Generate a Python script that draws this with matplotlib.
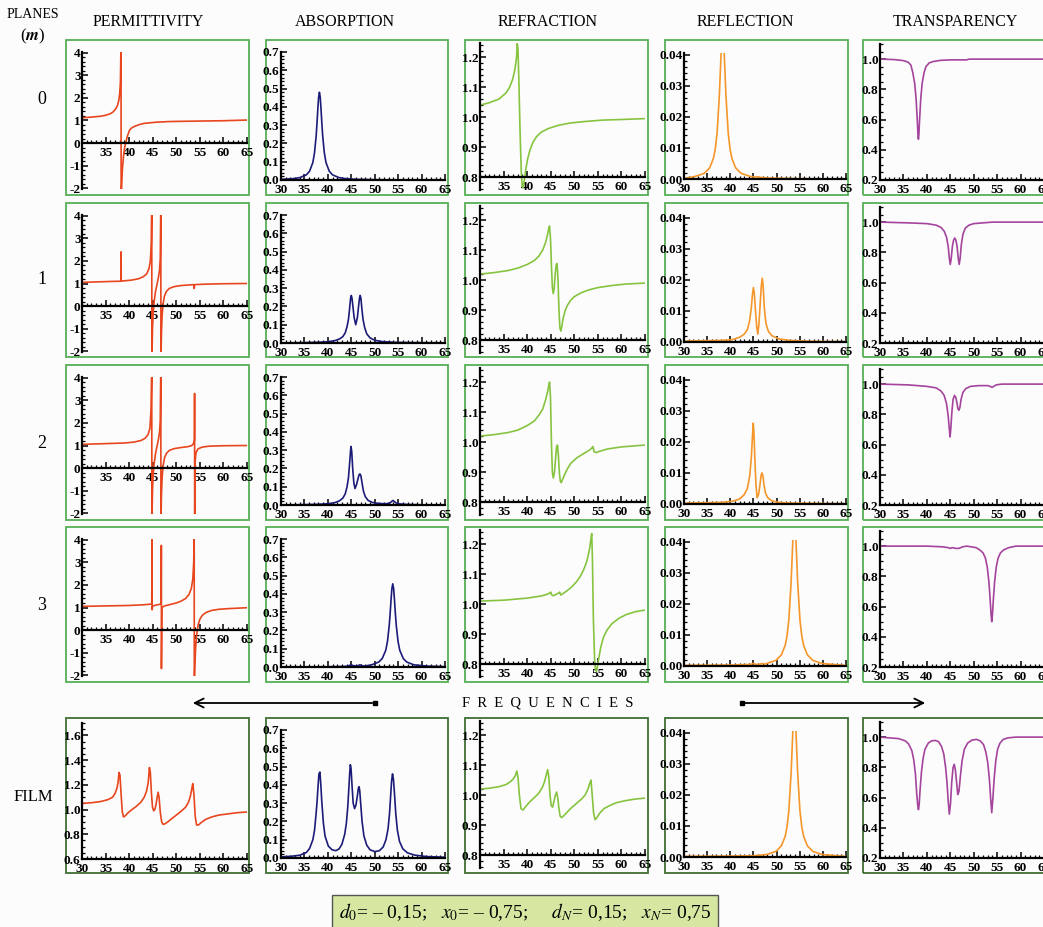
import numpy as np
import matplotlib
matplotlib.use("Agg")
import matplotlib.pyplot as plt
import matplotlib.ticker as tick
from matplotlib.patches import Rectangle, FancyArrowPatch
from matplotlib.lines import Line2D

plt.rcParams['font.family'] = ['Liberation Serif', 'DejaVu Serif']
plt.rcParams['mathtext.fontset'] = 'stix'

# ---------------- data ----------------
columns = ["PERMITTIVITY", "ABSORPTION", "REFRACTION", "REFLECTION", "TRANSPARENCY"]
rows = ["0", "1", "2", "3", "FILM"]

# m = 0
perm0_x = [30, 32, 34, 35, 36, 36.6, 37.1, 37.5, 37.8, 38.0, 38.15, 38.28, 38.3, 38.4, 38.55, 38.8, 39.1, 39.6, 40.1, 40.6, 41.25, 42.2, 43.1, 44.5, 46.0, 47.5, 48, 50, 55, 60, 65]
perm0_y = [1.12, 1.15, 1.19, 1.23, 1.3, 1.38, 1.5, 1.65, 1.88, 2.2, 2.7, 4.5, -2.5, -2.0, -1.2, -0.58, -0.14, 0.29, 0.58, 0.68, 0.75, 0.82, 0.87, 0.9, 0.93, 0.94, 0.95, 0.96, 0.975, 0.99, 1.02]
abs0_x = [30, 32.6, 34, 35.4, 36.1, 36.8, 37.15, 37.5, 37.675, 37.85, 38.025, 38.2, 38.375, 38.55, 38.725, 38.9, 39.25, 39.6, 40.3, 41.0, 42.4, 43.8, 46.4, 50, 55, 65]
abs0_y = [0.0035, 0.0074, 0.013, 0.028, 0.048, 0.096, 0.148, 0.24, 0.307, 0.384, 0.452, 0.48, 0.452, 0.384, 0.307, 0.24, 0.148, 0.096, 0.048, 0.028, 0.013, 0.0074, 0.0035, 0.0017, 0.0008, 0.0003]
refr0_x = [30, 32, 34, 35.5, 36.3, 36.9, 37.3, 37.55, 37.75, 37.9, 38.05, 38.25, 38.5, 38.75, 38.95, 39.15, 39.4, 39.7, 40.1, 40.6, 41.2, 42, 43, 44.5, 46.5, 49, 52, 56, 60, 65]
refr0_y = [1.04, 1.048, 1.06, 1.08, 1.1, 1.125, 1.15, 1.175, 1.2, 1.245, 1.23, 1.12, 0.95, 0.82, 0.77, 0.765, 0.79, 0.825, 0.86, 0.89, 0.915, 0.935, 0.95, 0.962, 0.972, 0.98, 0.985, 0.99, 0.992, 0.995]
refl0_x = [30, 32.35, 34.35, 35.55, 36.35, 36.75, 37.15, 37.65, 37.85, 38.0, 38.15, 38.35, 38.55, 38.7, 38.85, 39.05, 39.55, 39.95, 40.35, 41.15, 42.35, 44.35, 48.35, 55, 65]
refl0_y = [0.0002, 0.0008, 0.0018, 0.0036, 0.0066, 0.0096, 0.0148, 0.0272, 0.0345, 0.040, 0.045, 0.048, 0.045, 0.040, 0.0345, 0.0272, 0.0148, 0.0096, 0.0066, 0.0036, 0.0018, 0.0008, 0.0003, 0.0001, 0.0]
trans0_x = [30, 33, 35, 36, 36.6, 37.0, 37.4, 37.7, 37.95, 38.1, 38.2, 38.3, 38.45, 38.7, 39.0, 39.4, 39.8, 40.5, 41.5, 43, 45, 48.5, 49, 65]
trans0_y = [1.0, 0.997, 0.99, 0.98, 0.96, 0.91, 0.84, 0.74, 0.6, 0.5, 0.47, 0.5, 0.6, 0.74, 0.84, 0.91, 0.95, 0.975, 0.985, 0.992, 0.995, 0.995, 1.0, 1.0]

# m = 1
perm1_x = [30, 33, 36, 38.0, 38.28, 38.3, 38.32, 39, 40.5, 42, 43, 43.7, 44.2, 44.5, 44.7, 44.8, 44.82, 44.95, 45.1, 45.3, 45.6, 45.9, 46.2, 46.45, 46.6, 46.72, 46.74, 46.85, 47.0, 47.2, 47.5, 47.9, 48.5, 49.5, 51, 53.7, 53.8, 53.9, 56, 60, 65]
perm1_y = [1.05, 1.07, 1.09, 1.1, 1.11, 2.4, 1.11, 1.12, 1.15, 1.21, 1.3, 1.42, 1.65, 2.0, 2.8, 4.5, -2.5, -1.0, -0.3, 0.2, 0.65, 0.95, 1.25, 1.6, 2.1, 4.5, -2.5, -1.2, -0.4, 0.1, 0.45, 0.65, 0.78, 0.86, 0.91, 0.95, 0.78, 0.95, 0.97, 0.99, 1.0]
abs1_x = [30, 35, 38, 40, 41.5, 42.5, 43.2, 43.7, 44.1, 44.4, 44.65, 44.85, 45.0, 45.15, 45.35, 45.6, 45.95, 46.3, 46.55, 46.75, 46.9, 47.05, 47.25, 47.5, 47.85, 48.3, 49, 50, 51.5, 54, 58, 65]
abs1_y = [0.0, 0.002, 0.004, 0.007, 0.013, 0.022, 0.035, 0.055, 0.09, 0.13, 0.19, 0.245, 0.26, 0.245, 0.2, 0.14, 0.1, 0.14, 0.2, 0.245, 0.26, 0.245, 0.19, 0.13, 0.085, 0.05, 0.028, 0.015, 0.008, 0.004, 0.002, 0.001]
refr1_x = [30, 33, 36, 38, 40, 41.5, 42.5, 43.3, 43.9, 44.3, 44.55, 44.75, 44.95, 45.15, 45.35, 45.55, 45.75, 45.95, 46.15, 46.35, 46.55, 46.75, 46.95, 47.15, 47.35, 47.6, 48.0, 48.5, 49.2, 50, 51.5, 53, 55, 58, 61, 65]
refr1_y = [1.02, 1.025, 1.032, 1.04, 1.052, 1.065, 1.08, 1.1, 1.125, 1.15, 1.17, 1.18, 1.14, 1.05, 0.975, 0.955, 0.975, 1.02, 1.05, 1.055, 1.0, 0.9, 0.84, 0.83, 0.845, 0.87, 0.895, 0.915, 0.932, 0.945, 0.958, 0.967, 0.975, 0.982, 0.987, 0.99]
refl1_x = [30, 38, 40.5, 42, 43, 43.7, 44.2, 44.55, 44.8, 45.0, 45.2, 45.45, 45.7, 45.95, 46.2, 46.45, 46.7, 46.9, 47.1, 47.35, 47.7, 48.2, 49, 50.5, 53, 58, 65]
refl1_y = [0.0003, 0.0005, 0.0008, 0.0015, 0.0025, 0.004, 0.007, 0.011, 0.0155, 0.0175, 0.0155, 0.01, 0.005, 0.0025, 0.006, 0.012, 0.018, 0.0205, 0.018, 0.011, 0.006, 0.0035, 0.002, 0.001, 0.0005, 0.0002, 0.0001]
trans1_x = [30, 36, 40, 42, 43, 43.7, 44.2, 44.55, 44.8, 45.0, 45.2, 45.45, 45.7, 45.95, 46.2, 46.45, 46.7, 46.9, 47.1, 47.35, 47.7, 48.2, 49, 50, 52, 54, 65]
trans1_y = [1.0, 0.995, 0.99, 0.98, 0.965, 0.94, 0.9, 0.84, 0.76, 0.72, 0.76, 0.84, 0.88, 0.895, 0.88, 0.84, 0.76, 0.72, 0.76, 0.85, 0.92, 0.96, 0.98, 0.99, 0.995, 1.0, 1.0]

# m = 2
perm2_x = [30, 33, 36, 39, 41, 42.5, 43.4, 44.0, 44.4, 44.65, 44.8, 44.82, 44.95, 45.1, 45.3, 45.6, 45.9, 46.2, 46.45, 46.6, 46.72, 46.74, 46.85, 47.0, 47.2, 47.5, 47.9, 48.5, 49.5, 51, 52.5, 53.3, 53.7, 53.86, 53.88, 53.9, 54.0, 54.2, 54.6, 55.5, 57, 60, 65]
perm2_y = [1.05, 1.07, 1.09, 1.11, 1.15, 1.22, 1.32, 1.48, 1.75, 2.6, 4.5, -2.5, -1.0, -0.3, 0.2, 0.65, 0.95, 1.25, 1.6, 2.1, 4.5, -2.5, -1.2, -0.4, 0.1, 0.45, 0.65, 0.78, 0.86, 0.91, 0.95, 1.0, 1.1, 1.25, 3.3, -2.5, 0.3, 0.7, 0.85, 0.93, 0.97, 0.99, 1.0]
abs2_x = [30, 35, 38, 40, 41.5, 42.5, 43.2, 43.7, 44.1, 44.4, 44.65, 44.85, 44.95, 45.1, 45.3, 45.55, 45.8, 46.1, 46.4, 46.65, 46.85, 47.05, 47.3, 47.6, 48.0, 48.6, 49.5, 51, 52.5, 53.3, 53.65, 53.9, 54.15, 54.5, 55.3, 57, 60, 65]
abs2_y = [0.0, 0.002, 0.004, 0.007, 0.013, 0.023, 0.038, 0.06, 0.1, 0.15, 0.23, 0.3, 0.32, 0.29, 0.2, 0.12, 0.09, 0.11, 0.14, 0.165, 0.17, 0.16, 0.12, 0.075, 0.045, 0.025, 0.014, 0.008, 0.007, 0.012, 0.02, 0.025, 0.02, 0.012, 0.006, 0.003, 0.001, 0.0]
refr2_x = [30, 33, 36, 38, 40, 41.5, 42.5, 43.3, 43.9, 44.3, 44.55, 44.75, 44.95, 45.15, 45.35, 45.55, 45.8, 46.05, 46.25, 46.45, 46.65, 46.85, 47.05, 47.25, 47.5, 47.9, 48.5, 49.3, 50.5, 52, 53.2, 53.7, 53.95, 54.2, 54.6, 55.5, 57, 60, 65]
refr2_y = [1.02, 1.025, 1.032, 1.04, 1.055, 1.07, 1.09, 1.11, 1.14, 1.165, 1.185, 1.2, 1.15, 1.0, 0.9, 0.88, 0.9, 0.95, 0.985, 0.99, 0.95, 0.895, 0.868, 0.865, 0.875, 0.89, 0.91, 0.93, 0.947, 0.962, 0.973, 0.98, 0.985, 0.968, 0.965, 0.97, 0.977, 0.984, 0.99]
refl2_x = [30, 38, 40.5, 42, 43, 43.7, 44.2, 44.55, 44.8, 44.95, 45.1, 45.35, 45.55, 45.8, 46.1, 46.4, 46.65, 46.85, 47.05, 47.3, 47.6, 48.1, 49, 50.5, 53, 58, 65]
refl2_y = [0.0003, 0.0005, 0.0009, 0.0016, 0.003, 0.005, 0.009, 0.015, 0.022, 0.026, 0.023, 0.013, 0.006, 0.002, 0.003, 0.006, 0.0092, 0.010, 0.009, 0.006, 0.0035, 0.002, 0.001, 0.0005, 0.0003, 0.0002, 0.0001]
trans2_x = [30, 36, 40, 42, 43, 43.7, 44.2, 44.55, 44.8, 44.95, 45.1, 45.35, 45.6, 45.9, 46.2, 46.45, 46.65, 46.85, 47.05, 47.3, 47.7, 48.3, 49.3, 51, 53, 53.6, 53.9, 54.2, 54.8, 56, 65]
trans2_y = [1.0, 0.995, 0.985, 0.975, 0.955, 0.925, 0.87, 0.79, 0.7, 0.65, 0.7, 0.82, 0.9, 0.925, 0.91, 0.87, 0.835, 0.827, 0.845, 0.9, 0.945, 0.97, 0.985, 0.99, 0.99, 0.984, 0.978, 0.984, 0.995, 1.0, 1.0]

# m = 3
perm3_x = [30, 35, 40, 43, 44.8, 44.86, 44.88, 44.95, 45.5, 46.5, 46.8, 46.83, 46.85, 46.95, 47.5, 48.5, 50, 51, 52, 52.7, 53.2, 53.5, 53.7, 53.8, 53.82, 53.95, 54.1, 54.3, 54.6, 55.0, 55.5, 56.3, 57.5, 59, 61, 63, 65]
perm3_y = [1.05, 1.07, 1.09, 1.12, 1.15, 4.5, 0.9, 1.05, 1.1, 1.14, 1.16, 3.75, -1.7, 1.0, 1.07, 1.12, 1.2, 1.28, 1.4, 1.58, 1.85, 2.25, 3.0, 4.5, -2.5, -1.5, -0.8, -0.25, 0.2, 0.48, 0.65, 0.78, 0.87, 0.92, 0.95, 0.97, 0.99]
abs3_x = [30, 38, 42, 44.0, 44.6, 44.95, 45.3, 45.9, 46.5, 46.85, 47.2, 47.8, 49.35, 50.85, 51.6, 52.35, 52.725, 53.1, 53.29, 53.475, 53.66, 53.85, 54.04, 54.225, 54.41, 54.6, 54.975, 55.35, 56.1, 56.85, 58.35, 61.35, 65]
abs3_y = [0.0, 0.001, 0.002, 0.004, 0.008, 0.013, 0.008, 0.006, 0.008, 0.012, 0.008, 0.005, 0.012, 0.027, 0.046, 0.091, 0.14, 0.228, 0.291, 0.364, 0.428, 0.455, 0.428, 0.364, 0.291, 0.228, 0.14, 0.091, 0.046, 0.027, 0.012, 0.0045, 0.002]
refr3_x = [30, 35, 40, 43, 44.3, 44.8, 45.0, 45.25, 45.6, 46.2, 46.7, 46.9, 47.15, 47.6, 48.5, 49.5, 50.5, 51.3, 52.0, 52.6, 53.0, 53.3, 53.55, 53.7, 53.85, 54.05, 54.3, 54.5, 54.7, 54.9, 55.2, 55.6, 56.2, 57, 58, 59.5, 61, 63, 65]
refr3_y = [1.01, 1.013, 1.02, 1.027, 1.033, 1.037, 1.04, 1.03, 1.028, 1.033, 1.037, 1.04, 1.03, 1.035, 1.045, 1.058, 1.075, 1.093, 1.115, 1.14, 1.165, 1.19, 1.22, 1.235, 1.15, 0.95, 0.82, 0.78, 0.776, 0.79, 0.82, 0.855, 0.89, 0.915, 0.935, 0.953, 0.965, 0.975, 0.98]
refl3_x = [30, 40, 44.3, 44.95, 45.6, 46.2, 46.85, 47.5, 47.85, 49.85, 51.05, 51.85, 52.25, 52.65, 53.15, 53.35, 53.5, 53.65, 53.85, 54.05, 54.2, 54.35, 54.55, 55.05, 55.45, 55.85, 56.65, 57.85, 59.85, 63.85, 65]
refl3_y = [0.0002, 0.0003, 0.0005, 0.0008, 0.0005, 0.0005, 0.0008, 0.0006, 0.0008, 0.0018, 0.0036, 0.0066, 0.0096, 0.0148, 0.0272, 0.0345, 0.040, 0.045, 0.048, 0.045, 0.040, 0.0345, 0.0272, 0.0148, 0.0096, 0.0066, 0.0036, 0.0018, 0.0008, 0.0003, 0.0002]
trans3_x = [30, 40, 43.5, 44.5, 44.95, 45.5, 46.1, 46.85, 47.6, 48.5, 49.5, 50.5, 51.3, 52.0, 52.5, 52.9, 53.25, 53.5, 53.7, 53.85, 54.0, 54.2, 54.45, 54.8, 55.2, 55.7, 56.4, 57.5, 59, 65]
trans3_y = [1.0, 1.0, 0.995, 0.99, 0.985, 0.99, 0.985, 0.985, 0.995, 1.0, 0.995, 0.99, 0.975, 0.955, 0.92, 0.86, 0.76, 0.65, 0.55, 0.5, 0.55, 0.65, 0.76, 0.86, 0.92, 0.955, 0.975, 0.99, 1.0, 1.0]

# film
permF_x = [30, 32, 34, 35.5, 36.5, 37.0, 37.4, 37.65, 37.85, 38.05, 38.3, 38.55, 38.8, 39.2, 39.8, 40.6, 41.5, 42.5, 43.2, 43.7, 44.05, 44.3, 44.5, 44.7, 44.95, 45.2, 45.45, 45.7, 45.95, 46.15, 46.35, 46.6, 46.9, 47.2, 47.6, 48.2, 49.0, 50.0, 51.0, 52.0, 52.6, 53.0, 53.3, 53.5, 53.75, 54.0, 54.3, 54.7, 55.3, 56.2, 57.5, 59, 61, 63, 65]
permF_y = [1.05, 1.055, 1.065, 1.08, 1.1, 1.13, 1.17, 1.22, 1.3, 1.28, 1.12, 0.98, 0.94, 0.95, 0.975, 1.0, 1.025, 1.06, 1.1, 1.15, 1.22, 1.34, 1.3, 1.15, 1.02, 0.99, 1.0, 1.04, 1.1, 1.14, 1.1, 0.98, 0.9, 0.88, 0.885, 0.9, 0.925, 0.955, 0.985, 1.02, 1.06, 1.11, 1.17, 1.21, 1.12, 0.95, 0.875, 0.875, 0.895, 0.92, 0.94, 0.955, 0.965, 0.975, 0.98]
absF_x = [30, 32, 34, 35.4, 36.1, 36.8, 37.15, 37.5, 37.7, 37.9, 38.1, 38.3, 38.5, 38.7, 39.05, 39.4, 40.1, 40.9, 41.7, 42.4, 43.0, 43.6, 43.95, 44.25, 44.5, 44.65, 44.8, 44.95, 45.15, 45.4, 45.7, 46.0, 46.3, 46.5, 46.65, 46.8, 47.0, 47.3, 47.7, 48.3, 49.0, 50.0, 51.0, 51.8, 52.4, 52.85, 53.15, 53.4, 53.6, 53.8, 54.0, 54.25, 54.5, 54.85, 55.3, 56.0, 57.0, 58.5, 61, 65]
absF_y = [0.006, 0.009, 0.015, 0.03, 0.052, 0.1, 0.15, 0.245, 0.31, 0.39, 0.46, 0.47, 0.4, 0.31, 0.19, 0.12, 0.065, 0.045, 0.04, 0.05, 0.075, 0.13, 0.19, 0.28, 0.39, 0.46, 0.51, 0.49, 0.4, 0.3, 0.27, 0.29, 0.34, 0.38, 0.39, 0.37, 0.3, 0.2, 0.12, 0.07, 0.045, 0.035, 0.04, 0.06, 0.1, 0.16, 0.24, 0.34, 0.42, 0.46, 0.43, 0.34, 0.24, 0.15, 0.09, 0.05, 0.028, 0.016, 0.008, 0.004]
refrF_x = [30, 32, 34, 35.5, 36.5, 37.1, 37.5, 37.8, 38.05, 38.35, 38.7, 39.1, 39.6, 40.4, 41.4, 42.4, 43.2, 43.7, 44.1, 44.35, 44.6, 44.85, 45.1, 45.4, 45.7, 46.0, 46.25, 46.5, 46.75, 47.0, 47.3, 47.7, 48.3, 49.2, 50.3, 51.4, 52.3, 52.9, 53.3, 53.55, 53.8, 54.1, 54.4, 54.8, 55.4, 56.3, 57.5, 59, 61, 63, 65]
refrF_y = [1.02, 1.023, 1.028, 1.035, 1.045, 1.055, 1.065, 1.08, 1.06, 1.0, 0.955, 0.95, 0.96, 0.975, 0.99, 1.005, 1.025, 1.045, 1.07, 1.085, 1.06, 1.0, 0.965, 0.96, 0.98, 1.0, 1.01, 0.99, 0.955, 0.93, 0.925, 0.93, 0.94, 0.955, 0.97, 0.985, 1.0, 1.02, 1.04, 1.05, 1.0, 0.94, 0.918, 0.925, 0.94, 0.955, 0.965, 0.975, 0.982, 0.987, 0.99]
reflF_x = [30, 40, 45, 47.85, 49.85, 51.05, 51.85, 52.25, 52.65, 53.15, 53.35, 53.5, 53.65, 53.85, 54.05, 54.2, 54.35, 54.55, 55.05, 55.45, 55.85, 56.65, 57.85, 59.85, 63.85, 65]
reflF_y = [0.0002, 0.0003, 0.0004, 0.0008, 0.0018, 0.0036, 0.0066, 0.0096, 0.0148, 0.0272, 0.0345, 0.040, 0.045, 0.048, 0.045, 0.040, 0.0345, 0.0272, 0.0148, 0.0096, 0.0066, 0.0036, 0.0018, 0.0008, 0.0003, 0.0002]
transF_x = [30, 32, 34, 35.4, 36.1, 36.8, 37.2, 37.55, 37.85, 38.05, 38.2, 38.35, 38.55, 38.85, 39.2, 39.6, 40.3, 41.0, 41.8, 42.5, 43.1, 43.6, 44.0, 44.3, 44.55, 44.8, 45.05, 45.3, 45.6, 45.85, 46.1, 46.35, 46.6, 46.85, 47.15, 47.5, 48.0, 48.7, 49.6, 50.6, 51.4, 52.1, 52.6, 53.0, 53.35, 53.6, 53.85, 54.1, 54.35, 54.7, 55.1, 55.6, 56.3, 57.3, 59, 61, 65]
transF_y = [1.0, 0.995, 0.99, 0.975, 0.955, 0.91, 0.85, 0.76, 0.62, 0.55, 0.52, 0.55, 0.65, 0.77, 0.86, 0.92, 0.96, 0.975, 0.978, 0.97, 0.94, 0.89, 0.8, 0.7, 0.58, 0.49, 0.56, 0.7, 0.8, 0.82, 0.78, 0.7, 0.62, 0.64, 0.74, 0.84, 0.92, 0.96, 0.98, 0.985, 0.975, 0.95, 0.9, 0.83, 0.72, 0.6, 0.5, 0.6, 0.72, 0.84, 0.92, 0.96, 0.985, 0.995, 1.0, 1.0, 1.0]

params_text = r"$d_0$= – 0,15;   $x_0$= – 0,75;     $d_N$= 0,15;   $x_N$= 0,75"

# ---------------- layout ----------------
W, H = 1043, 927
fig = plt.figure(figsize=(W / 100, H / 100), dpi=100)
fig.patch.set_facecolor('#fcfcfc')

curves = [
    [(perm0_x, perm0_y), (abs0_x, abs0_y), (refr0_x, refr0_y), (refl0_x, refl0_y), (trans0_x, trans0_y)],
    [(perm1_x, perm1_y), (abs1_x, abs1_y), (refr1_x, refr1_y), (refl1_x, refl1_y), (trans1_x, trans1_y)],
    [(perm2_x, perm2_y), (abs2_x, abs2_y), (refr2_x, refr2_y), (refl2_x, refl2_y), (trans2_x, trans2_y)],
    [(perm3_x, perm3_y), (abs3_x, abs3_y), (refr3_x, refr3_y), (refl3_x, refl3_y), (trans3_x, trans3_y)],
    [(permF_x, permF_y), (absF_x, absF_y), (refrF_x, refrF_y), (reflF_x, reflF_y), (transF_x, transF_y)],
]
colors = ['#e8461e', '#1c1c78', '#86c440', '#f5962a', '#a4449c']

frame_x = [(66, 249), (266, 448), (465, 648), (665, 848), (863, 1060)]
frame_y = [(40, 195), (203, 357), (365, 520), (527, 682), (718, 873)]
ax_x = [(82, 247), (281, 445), (480, 645), (684, 846), (880, 1044)]


def fig_rect(x0, y0, x1, y1):
    return [x0 / W, 1 - y1 / H, (x1 - x0) / W, (y1 - y0) / H]


for r in range(5):
    film = r == 4
    fy0, fy1 = frame_y[r]
    for c in range(5):
        fx0, fx1 = frame_x[c]
        fig.add_artist(Rectangle((fx0 / W, 1 - fy1 / H), (fx1 - fx0) / W, (fy1 - fy0) / H,
                                 transform=fig.transFigure, fill=False,
                                 edgecolor='#3f6e34' if film else '#55b055', lw=1.3, zorder=0))
        # axes vertical extents (pixel offsets inside frame) and limits per column
        if c == 0 and not film:
            top, bot, ylim = 12, 149, (-2.03, 4.03)
        elif c == 0:
            top, bot, ylim = 5, 141, (0.6, 1.7)
        elif c == 1:
            top, bot, ylim = 12, 140, (0, 0.7)
        elif c == 2:
            top, bot, ylim = 3, 150, (0.757, 1.247)
        elif c == 3:
            top, bot, ylim = 13, 139, (0, 0.0405)
        else:
            top, bot, ylim = 4, 140, (0.2, 1.1)
        ax = fig.add_axes(fig_rect(ax_x[c][0], fy0 + top, ax_x[c][1], fy0 + bot))
        ax.patch.set_alpha(0)
        xs, ys = curves[r][c]
        ax.plot(xs, ys, color=colors[c], lw=1.2, solid_joinstyle='round')
        ax.set_xlim(30, 65)
        ax.set_ylim(*ylim)
        for s in ['top', 'right']:
            ax.spines[s].set_visible(False)
        for s in ['left', 'bottom']:
            ax.spines[s].set_linewidth(1.6)
        if c == 0 and not film:
            ax.spines['bottom'].set_position(('data', 0))
            ax.set_xticks([35, 40, 45, 50, 55, 60, 65])
            ax.set_yticks([-2, -1, 0, 1, 2, 3, 4])
            ax.yaxis.set_minor_locator(tick.MultipleLocator(0.2))
            ax.yaxis.set_major_formatter(tick.FormatStrFormatter('%d'))
        elif c == 0:
            ax.set_xticks([30, 35, 40, 45, 50, 55, 60, 65])
            ax.set_yticks([0.6, 0.8, 1.0, 1.2, 1.4, 1.6])
            ax.yaxis.set_minor_locator(tick.MultipleLocator(0.05))
            ax.yaxis.set_major_formatter(tick.FormatStrFormatter('%.1f'))
        elif c == 1:
            ax.set_xticks([30, 35, 40, 45, 50, 55, 60, 65])
            ax.set_yticks(np.arange(0, 0.71, 0.1))
            ax.yaxis.set_minor_locator(tick.MultipleLocator(0.02))
            ax.yaxis.set_major_formatter(tick.FormatStrFormatter('%.1f'))
        elif c == 2:
            ax.spines['bottom'].set_position(('data', 0.8))
            ax.set_xticks([35, 40, 45, 50, 55, 60, 65])
            ax.set_yticks([0.8, 0.9, 1.0, 1.1, 1.2])
            ax.yaxis.set_minor_locator(tick.MultipleLocator(0.02))
            ax.yaxis.set_major_formatter(tick.FormatStrFormatter('%.1f'))
        elif c == 3:
            ax.set_xticks([30, 35, 40, 45, 50, 55, 60, 65])
            ax.set_yticks([0, 0.01, 0.02, 0.03, 0.04])
            ax.yaxis.set_minor_locator(tick.MultipleLocator(0.002))
            ax.yaxis.set_major_formatter(tick.FormatStrFormatter('%.2f'))
        else:
            ax.set_xticks([30, 35, 40, 45, 50, 55, 60, 65])
            ax.set_yticks([0.2, 0.4, 0.6, 0.8, 1.0])
            ax.yaxis.set_minor_locator(tick.MultipleLocator(0.05))
            ax.yaxis.set_major_formatter(tick.FormatStrFormatter('%.1f'))
        ax.xaxis.set_minor_locator(tick.MultipleLocator(1))
        ax.tick_params(which='major', direction='in', length=4, width=1.1, pad=1.0,
                       labelsize=9.5, colors='black')
        ax.tick_params(axis='x', which='major', pad=2.8)
        ax.tick_params(which='minor', direction='in', length=2, width=0.9)
        for lab in ax.get_xticklabels() + ax.get_yticklabels():
            lab.set_fontweight('bold')

# headers
col_cx = [148, 345, 548, 745, 955]
for name, cx in zip(columns, col_cx):
    fig.text(cx / W, 1 - 22 / H, name, ha='center', va='center', fontsize=11.5)
fig.text(33 / W, 1 - 15 / H, "PLANES", ha='center', va='center', fontsize=10)
fig.text(33 / W, 1 - 36 / H, r"($\boldsymbol{m}$)", ha='center', va='center', fontsize=12)

row_cy = [100, 280, 443, 605, 797]
row_cx = [42, 42, 42, 42, 33]
for name, cx, cy in zip(rows, row_cx, row_cy):
    fig.text(cx / W, 1 - cy / H, name, ha='center', va='center', fontsize=13 if len(name) == 1 else 12)

# frequencies label and arrows
fig.text(548 / W, 1 - 703 / H, "F  R  E  Q  U  E  N  C  I  E  S", ha='center', va='center', fontsize=10.5)
for x0, x1 in [(375, 190), (742, 928)]:
    fig.add_artist(FancyArrowPatch((x0 / W, 1 - 703 / H), (x1 / W, 1 - 703 / H),
                                   transform=fig.transFigure, arrowstyle='->',
                                   mutation_scale=16, lw=1.3, color='black'))
    fig.add_artist(Line2D([x0 / W], [1 - 703 / H], marker='s', ms=3.5, color='black',
                          transform=fig.transFigure))

# parameter box
fig.add_artist(Rectangle((332 / W, 1 - 930 / H), (718 - 332) / W, 35 / H,
                         transform=fig.transFigure, facecolor='#d6e7a2',
                         edgecolor='#555555', lw=1.0))
fig.text(525 / W, 1 - 912 / H, params_text, ha='center', va='center', fontsize=14)

fig.savefig("out.png", dpi=100, facecolor=fig.get_facecolor())
